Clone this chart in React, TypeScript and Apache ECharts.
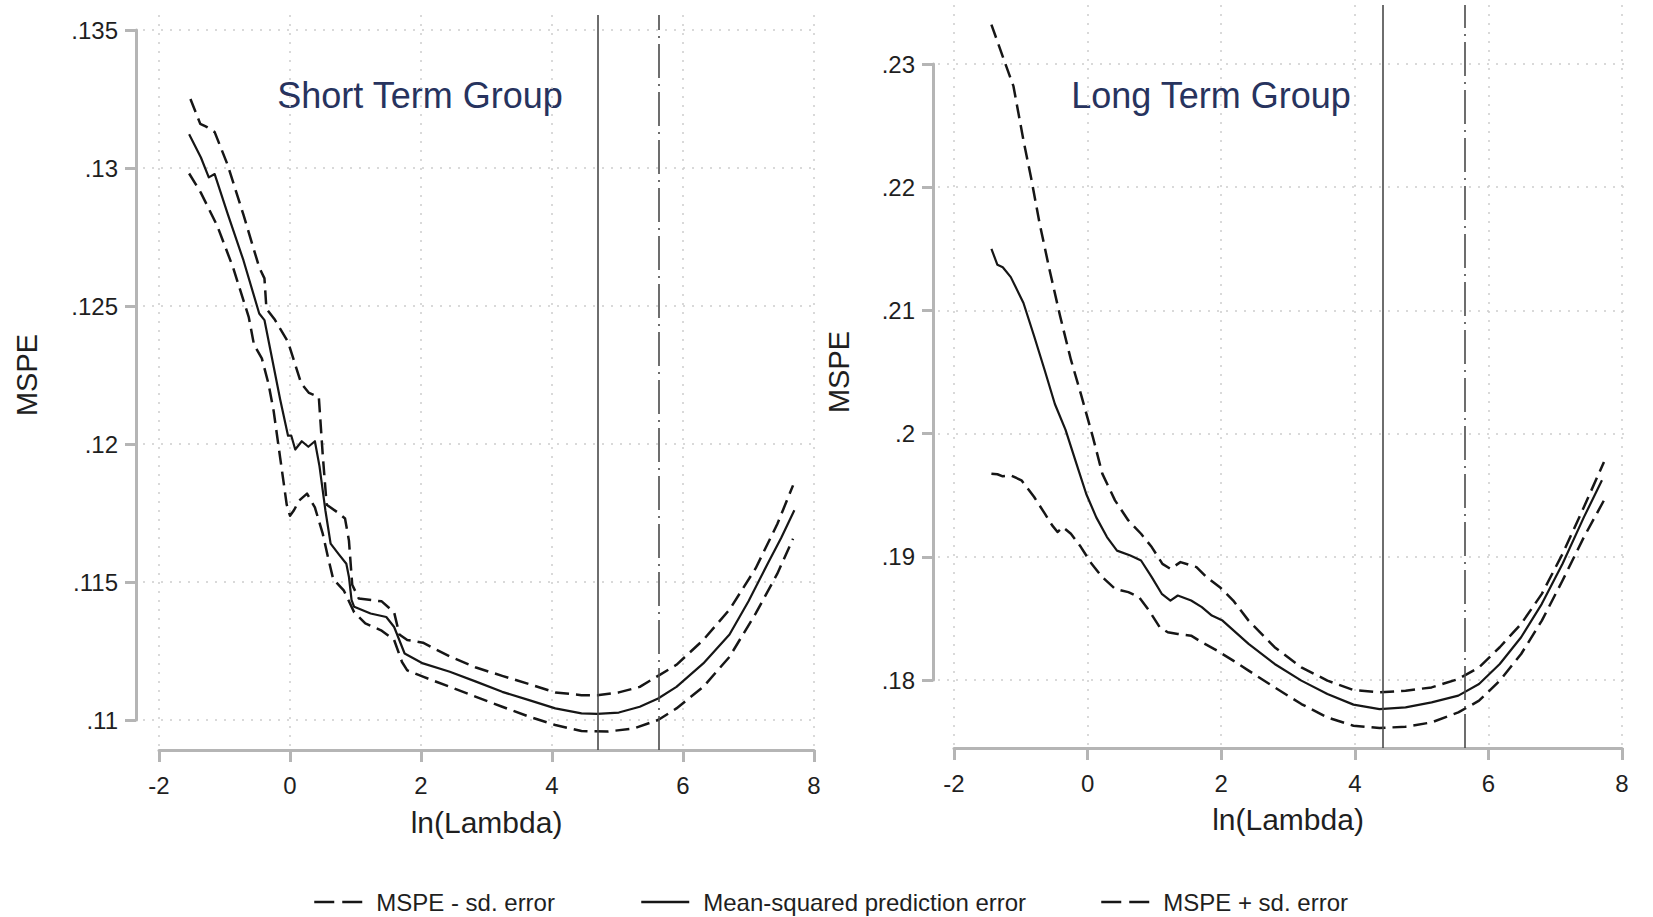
import React, { useEffect, useRef } from "react";
import * as echarts from "echarts";

const FONT = "'Liberation Sans', Arial, Helvetica, sans-serif";

// ---------- tick values ----------
const xTicks = [-2, 0, 2, 4, 6, 8];
const shortYTicks = [0.11, 0.115, 0.12, 0.125, 0.13, 0.135];
const longYTicks = [0.18, 0.19, 0.2, 0.21, 0.22, 0.23];

// ---------- legend / series names ----------
const nameLower = "MSPE - sd. error";
const nameMean = "Mean-squared prediction error";
const nameUpper = "MSPE + sd. error";
const panelTitles = ["Short Term Group", "Long Term Group"];

// ---------- reference lines (ln lambda) ----------
const shortLambdaMin = 4.7;
const shortLambda1se = 5.63;
const longLambdaMin = 4.42;
const longLambda1se = 5.64;

// ---------- Short term group: [ln(lambda), MSPE] ----------
const shortMean: [number, number][] = [
  [-1.54, 0.13122], [-1.36, 0.13038], [-1.24, 0.12966], [-1.15, 0.12978], [-0.95, 0.12833],
  [-0.71, 0.12665], [-0.47, 0.12473], [-0.39, 0.12449], [-0.27, 0.12305], [-0.15, 0.12161],
  [-0.03, 0.1203], [0.02, 0.1203], [0.08, 0.1198], [0.18, 0.1201], [0.28, 0.1199],
  [0.38, 0.1201], [0.45, 0.1192], [0.54, 0.1176], [0.62, 0.11639], [0.74, 0.11602],
  [0.86, 0.11566], [0.9, 0.11518], [0.94, 0.11434], [0.98, 0.1141], [1.23, 0.11386],
  [1.47, 0.11373], [1.59, 0.11337], [1.67, 0.11289], [1.75, 0.11241], [2.03, 0.11205],
  [2.44, 0.11175], [2.84, 0.11139], [3.24, 0.11102], [3.65, 0.11072], [4.05, 0.11042],
  [4.45, 0.11024], [4.69, 0.11022], [5.02, 0.11027], [5.34, 0.11048], [5.62, 0.11078],
  [5.9, 0.1112], [6.31, 0.11205], [6.71, 0.1131], [7.0, 0.1143], [7.3, 0.1157],
  [7.5, 0.1166], [7.7, 0.1176],
];
const shortUpper: [number, number][] = [
  [-1.52, 0.1325], [-1.37, 0.1316], [-1.28, 0.1315], [-1.15, 0.1313], [-0.95, 0.1301],
  [-0.71, 0.1283], [-0.47, 0.1264], [-0.39, 0.126], [-0.36, 0.1249], [-0.23, 0.1245],
  [-0.03, 0.1237], [0.05, 0.1231], [0.17, 0.1222], [0.29, 0.12185], [0.44, 0.1217],
  [0.5, 0.1196], [0.56, 0.1178], [0.74, 0.1175], [0.84, 0.1173], [0.9, 0.1165],
  [0.95, 0.1149], [1.05, 0.1144], [1.4, 0.1143], [1.59, 0.1139], [1.67, 0.1131],
  [1.79, 0.1129], [2.03, 0.1128], [2.44, 0.1123], [2.84, 0.1119], [3.24, 0.1116],
  [3.65, 0.1113], [4.05, 0.111], [4.45, 0.1109], [4.69, 0.1109], [5.02, 0.111],
  [5.34, 0.1112], [5.62, 0.1116], [5.9, 0.112], [6.31, 0.1129], [6.71, 0.114],
  [7.11, 0.1155], [7.44, 0.1171], [7.68, 0.1185],
];
const shortLower: [number, number][] = [
  [-1.54, 0.1298], [-1.36, 0.1291], [-1.11, 0.1279], [-0.87, 0.1264], [-0.63, 0.1246],
  [-0.55, 0.1236], [-0.43, 0.1231], [-0.33, 0.1222], [-0.25, 0.1212], [-0.15, 0.1195],
  [-0.05, 0.1178], [0.0, 0.1174], [0.06, 0.1176], [0.14, 0.11795], [0.26, 0.1182],
  [0.38, 0.1177], [0.5, 0.11675], [0.58, 0.1159], [0.66, 0.1151], [0.82, 0.1147],
  [0.9, 0.1143], [0.98, 0.1139], [1.15, 0.1135], [1.39, 0.11325], [1.59, 0.1129],
  [1.71, 0.1121], [1.79, 0.1118], [2.03, 0.11157], [2.44, 0.1112], [2.84, 0.11084],
  [3.24, 0.11048], [3.65, 0.11012], [4.05, 0.10982], [4.45, 0.1096], [4.85, 0.10958],
  [5.26, 0.1097], [5.62, 0.11], [5.9, 0.11042], [6.31, 0.1112], [6.71, 0.11229],
  [7.11, 0.11386], [7.44, 0.1153], [7.68, 0.11657],
];

// ---------- Long term group: [ln(lambda), MSPE] ----------
const longMean: [number, number][] = [
  [-1.44, 0.215], [-1.35, 0.2137], [-1.27, 0.2135], [-1.15, 0.2127], [-0.96, 0.2106],
  [-0.8, 0.2079], [-0.64, 0.2051], [-0.49, 0.2024], [-0.33, 0.2003], [-0.17, 0.1976],
  [-0.02, 0.1951], [0.13, 0.1932], [0.29, 0.1916], [0.44, 0.1905], [0.64, 0.1901],
  [0.8, 0.1897], [0.96, 0.18835], [1.11, 0.187], [1.24, 0.18645], [1.35, 0.18686],
  [1.55, 0.18645], [1.71, 0.18591], [1.86, 0.18523], [2.02, 0.18482], [2.41, 0.18293],
  [2.8, 0.1813], [3.2, 0.17995], [3.59, 0.17886], [3.98, 0.178], [4.37, 0.17764],
  [4.76, 0.17778], [5.15, 0.17818], [5.55, 0.17873], [5.86, 0.17967], [6.17, 0.1813],
  [6.49, 0.18347], [6.8, 0.18618], [7.11, 0.18943], [7.43, 0.19322], [7.7, 0.19621],
];
const longUpper: [number, number][] = [
  [-1.44, 0.2332], [-1.23, 0.23], [-1.11, 0.2282], [-0.96, 0.2238], [-0.84, 0.2206],
  [-0.72, 0.2171], [-0.57, 0.2133], [-0.41, 0.2095], [-0.25, 0.206], [-0.1, 0.2032],
  [0.08, 0.1997], [0.22, 0.19675], [0.41, 0.19458], [0.61, 0.19295], [0.8, 0.19187],
  [0.96, 0.19079], [1.12, 0.18943], [1.24, 0.18902], [1.39, 0.18957], [1.63, 0.18916],
  [1.78, 0.18835], [1.98, 0.18753], [2.18, 0.18645], [2.41, 0.18482], [2.8, 0.18266],
  [3.2, 0.18103], [3.59, 0.17995], [3.98, 0.17919], [4.37, 0.179], [4.76, 0.17913],
  [5.15, 0.1794], [5.55, 0.18008], [5.86, 0.18103], [6.17, 0.18266], [6.49, 0.18455],
  [6.8, 0.18699], [7.11, 0.19024], [7.43, 0.19404], [7.73, 0.1977],
];
const longLower: [number, number][] = [
  [-1.44, 0.19675], [-1.35, 0.1967], [-1.27, 0.19653], [-1.15, 0.19661], [-0.99, 0.19621],
  [-0.8, 0.19485], [-0.64, 0.1935], [-0.53, 0.19255], [-0.45, 0.19201], [-0.37, 0.19241],
  [-0.25, 0.19187], [-0.1, 0.19079], [0.06, 0.18943], [0.22, 0.18835], [0.41, 0.1874],
  [0.61, 0.18713], [0.77, 0.18672], [0.92, 0.18564], [1.08, 0.18428], [1.2, 0.18388],
  [1.35, 0.18374], [1.55, 0.1836], [1.71, 0.18306], [1.94, 0.18238], [2.18, 0.18157],
  [2.41, 0.18076], [2.8, 0.1794], [3.2, 0.17805], [3.59, 0.17696], [3.98, 0.17629],
  [4.37, 0.1761], [4.76, 0.17621], [5.15, 0.17656], [5.55, 0.17737], [5.86, 0.17832],
  [6.17, 0.17995], [6.49, 0.18211], [6.8, 0.18482], [7.11, 0.18808], [7.43, 0.1916],
  [7.73, 0.19458],
];

// ---------- layout (pixels) ----------
type Layout = {
  tick: { x0: number; x1: number; yTop: number; yBot: number };
  plot: { left: number; right: number; top: number; bottom: number };
  yAxisLineX: number;
  xAxisLineY: number;
  yNameGap: number;
  xNameGap: number;
  title: { x: number; y: number };
};

const layouts: Layout[] = [
  {
    tick: { x0: 159, x1: 814, yTop: 30, yBot: 720 },
    plot: { left: 143, right: 816, top: 15, bottom: 750 },
    yAxisLineX: 136,
    xAxisLineY: 750,
    yNameGap: 95,
    xNameGap: 57,
    title: { x: 420, y: 95 },
  },
  {
    tick: { x0: 954, x1: 1622, yTop: 64, yBot: 680 },
    plot: { left: 938, right: 1624, top: 5, bottom: 748 },
    yAxisLineX: 933,
    xAxisLineY: 748,
    yNameGap: 80,
    xNameGap: 56,
    title: { x: 1211, y: 95 },
  },
];

const AXIS_GRAY = "#b5b5b5";
const TEXT_DARK = "#1f1f1f";
const CURVE = "#161616";
const VLINE = "#4a4a4a";

function fmtY(v: number) {
  let s = v.toFixed(3);
  s = s.replace(/0+$/, "").replace(/\.$/, "");
  return s.replace(/^0/, "");
}

function buildOption() {
  const grids: any[] = [];
  const xAxes: any[] = [];
  const yAxes: any[] = [];
  const series: any[] = [];

  const panels = [
    { yTicks: shortYTicks, yInt: 0.005, lower: shortLower, mean: shortMean, upper: shortUpper, lmin: shortLambdaMin, l1se: shortLambda1se },
    { yTicks: longYTicks, yInt: 0.01, lower: longLower, mean: longMean, upper: longUpper, lmin: longLambdaMin, l1se: longLambda1se },
  ];

  panels.forEach((p, i) => {
    const L = layouts[i];
    const vx0 = xTicks[0];
    const vx1 = xTicks[xTicks.length - 1];
    const vyBot = p.yTicks[0];
    const vyTop = p.yTicks[p.yTicks.length - 1];
    const pxX = (L.tick.x1 - L.tick.x0) / (vx1 - vx0);
    const pxY = (L.tick.yBot - L.tick.yTop) / (vyTop - vyBot);
    const aMinX = vx0 - (L.tick.x0 - L.plot.left) / pxX;
    const aMaxX = vx0 + (L.plot.right - L.tick.x0) / pxX;
    const aMinY = vyBot - (L.plot.bottom - L.tick.yBot) / pxY;
    const aMaxY = vyTop + (L.tick.yTop - L.plot.top) / pxY;

    // Grid A: the full plot region (data + dotted grid lines)
    grids.push({
      left: L.plot.left,
      top: L.plot.top,
      width: L.plot.right - L.plot.left,
      height: L.plot.bottom - L.plot.top,
      containLabel: false,
    });
    // Grid B: tick range (axes only)
    grids.push({
      left: L.tick.x0,
      top: L.tick.yTop,
      width: L.tick.x1 - L.tick.x0,
      height: L.tick.yBot - L.tick.yTop,
      containLabel: false,
    });
    const gA = i * 2;
    const gB = i * 2 + 1;

    const gridLine = { show: true, lineStyle: { color: "#cdcdcd", type: [2, 7], width: 1.5 } };

    xAxes.push({
      type: "value",
      gridIndex: gA,
      min: aMinX,
      max: aMaxX,
      axisLine: { show: false, onZero: false },
      axisTick: { show: false, customValues: xTicks },
      axisLabel: { show: false, customValues: xTicks },
      splitLine: gridLine,
    });
    xAxes.push({
      type: "value",
      gridIndex: gB,
      position: "bottom",
      min: vx0,
      max: vx1,
      interval: 2,
      offset: L.xAxisLineY - L.tick.yBot,
      axisLine: { show: true, onZero: false, lineStyle: { color: AXIS_GRAY, width: 3 } },
      axisTick: { show: true, length: 12, lineStyle: { color: AXIS_GRAY, width: 3 } },
      axisLabel: { show: true, fontSize: 24, color: TEXT_DARK, fontFamily: FONT, margin: 23 },
      splitLine: { show: false },
      name: "ln(Lambda)",
      nameLocation: "middle",
      nameGap: L.xNameGap,
      nameTextStyle: { fontSize: 30, color: TEXT_DARK, fontFamily: FONT },
    });
    yAxes.push({
      type: "value",
      gridIndex: gA,
      min: aMinY,
      max: aMaxY,
      axisLine: { show: false, onZero: false },
      axisTick: { show: false, customValues: p.yTicks },
      axisLabel: { show: false, customValues: p.yTicks },
      splitLine: gridLine,
    });
    yAxes.push({
      type: "value",
      gridIndex: gB,
      position: "left",
      min: vyBot,
      max: vyTop,
      interval: p.yInt,
      offset: L.tick.x0 - L.yAxisLineX,
      axisLine: { show: true, onZero: false, lineStyle: { color: AXIS_GRAY, width: 3 } },
      axisTick: { show: true, length: 11, lineStyle: { color: AXIS_GRAY, width: 3 } },
      axisLabel: { show: true, fontSize: 24, color: TEXT_DARK, fontFamily: FONT, margin: 18, formatter: fmtY },
      splitLine: { show: false },
      name: "MSPE",
      nameLocation: "middle",
      nameGap: L.yNameGap,
      nameTextStyle: { fontSize: 29, color: TEXT_DARK, fontFamily: FONT },
    });

    const mk = (name: string, data: [number, number][], dashed: boolean, extra: any = {}) => ({
      type: "line",
      name,
      xAxisIndex: gA,
      yAxisIndex: gA,
      data,
      symbol: "none",
      showSymbol: false,
      smooth: false,
      clip: false,
      silent: true,
      lineStyle: { color: CURVE, width: dashed ? 2.5 : 2.2, type: dashed ? [14, 7] : "solid", join: "round" },
      itemStyle: { color: CURVE },
      ...extra,
    });

    series.push(
      mk(nameMean, p.mean, false, {
        markLine: {
          silent: true,
          symbol: ["none", "none"],
          label: { show: false },
          animation: false,
          data: [
            { xAxis: p.lmin, lineStyle: { type: "solid", color: VLINE, width: 1.6 } },
            { xAxis: p.l1se, lineStyle: { type: [34, 6, 2, 6], color: VLINE, width: 1.6 } },
          ],
        },
      }),
      mk(nameLower, p.lower, true),
      mk(nameUpper, p.upper, true)
    );
  });

  const legendBase = {
    top: 885,
    itemWidth: 48,
    itemHeight: 14,
    selectedMode: false,
    itemStyle: { opacity: 0 },
    textStyle: { fontSize: 24, color: TEXT_DARK, fontFamily: FONT, padding: [0, 0, 0, 9] },
  };

  return {
    animation: false,
    backgroundColor: "#ffffff",
    grid: grids,
    xAxis: xAxes,
    yAxis: yAxes,
    series,
    legend: [
      { ...legendBase, left: 308, data: [nameLower], lineStyle: { type: [20, 8], width: 2.5, color: CURVE } },
      { ...legendBase, left: 635, data: [nameMean], lineStyle: { type: "solid", width: 2.5, color: CURVE } },
      { ...legendBase, left: 1095, data: [nameUpper], lineStyle: { type: [20, 8], width: 2.5, color: CURVE } },
    ],
    graphic: layouts.map((L, i) => ({
      type: "text",
      x: L.title.x,
      y: L.title.y,
      silent: true,
      style: {
        text: panelTitles[i],
        fontSize: 36,
        fontFamily: FONT,
        fill: "#27335e",
        align: "center",
        verticalAlign: "middle",
        textAlign: "center",
        textVerticalAlign: "middle",
      },
    })),
  };
}

export default function App() {
  const ref = useRef<HTMLDivElement>(null);
  useEffect(() => {
    if (!ref.current) return;
    const chart = echarts.init(ref.current, undefined, { renderer: "svg" });
    chart.setOption(buildOption() as any);
    return () => {
      chart.dispose();
    };
  }, []);
  return (
    <div
      ref={ref}
      style={{ position: "fixed", left: 0, top: 0, width: 1653, height: 917, background: "#fff" }}
    />
  );
}
